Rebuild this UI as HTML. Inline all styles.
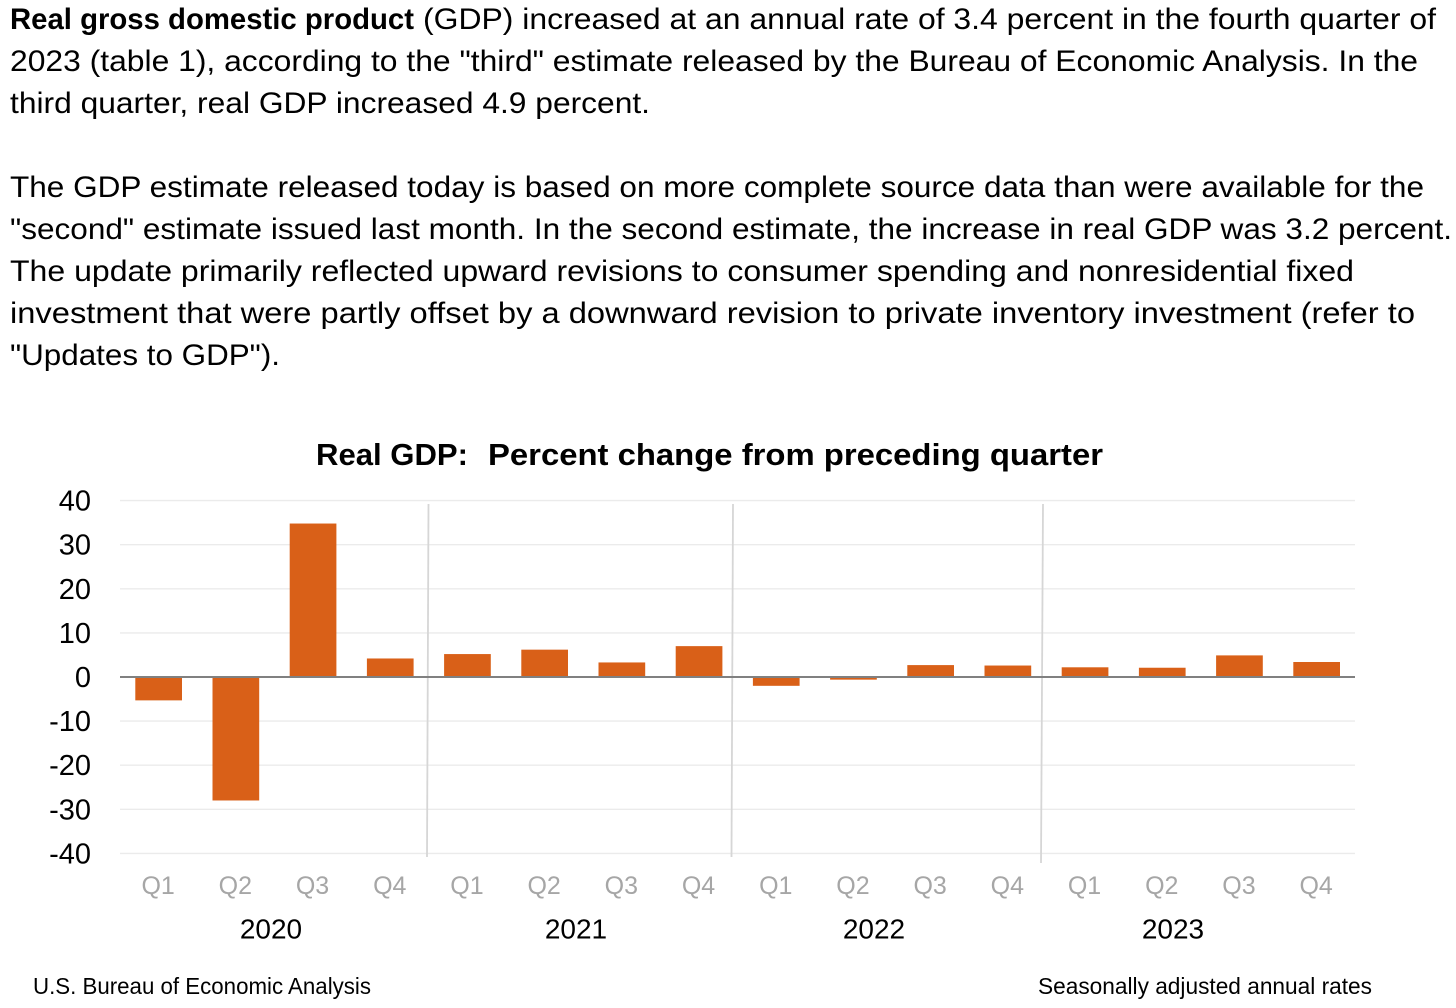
<!DOCTYPE html>
<html lang="en">
<head>
<meta charset="utf-8">
<title>Real GDP: Percent change from preceding quarter</title>
<style>
html,body{margin:0;padding:0;background:#fff;width:1456px;height:1008px;overflow:hidden}
svg{display:block;font-family:"Liberation Sans",sans-serif}
.body-text{font-size:30px;fill:#000}
</style>
</head>
<body>
<svg id="page" width="1456" height="1008" viewBox="0 0 1456 1008" xmlns="http://www.w3.org/2000/svg">
<g>
<text class="body-text" x="10" y="29" font-weight="700" textLength="404" lengthAdjust="spacingAndGlyphs">Real gross domestic product</text>
<text class="body-text" x="423" y="29" textLength="1013" lengthAdjust="spacingAndGlyphs">(GDP) increased at an annual rate of 3.4 percent in the fourth quarter of</text>
<text class="body-text" x="10" y="71" textLength="1408" lengthAdjust="spacingAndGlyphs">2023 (table 1), according to the "third" estimate released by the Bureau of Economic Analysis. In the</text>
<text class="body-text" x="10" y="113" textLength="640" lengthAdjust="spacingAndGlyphs">third quarter, real GDP increased 4.9 percent.</text>
<text class="body-text" x="10" y="197" textLength="1414" lengthAdjust="spacingAndGlyphs">The GDP estimate released today is based on more complete source data than were available for the</text>
<text class="body-text" x="10" y="239" textLength="1442" lengthAdjust="spacingAndGlyphs">"second" estimate issued last month. In the second estimate, the increase in real GDP was 3.2 percent.</text>
<text class="body-text" x="10" y="281" textLength="1344" lengthAdjust="spacingAndGlyphs">The update primarily reflected upward revisions to consumer spending and nonresidential fixed</text>
<text class="body-text" x="10" y="323" textLength="1405" lengthAdjust="spacingAndGlyphs">investment that were partly offset by a downward revision to private inventory investment (refer to</text>
<text class="body-text" x="10" y="365" textLength="270" lengthAdjust="spacingAndGlyphs">"Updates to GDP").</text>
</g>
<g font-size="31" font-weight="700" fill="#000">
<text x="316" y="465" textLength="152" lengthAdjust="spacingAndGlyphs">Real GDP:</text>
<text x="488" y="465" textLength="615" lengthAdjust="spacingAndGlyphs">Percent change from preceding quarter</text>
</g>
<g id="grid"></g>
<g id="separators">
<line x1="428.5" y1="504" x2="427" y2="857" stroke="#d6d6d6" stroke-width="1.8"/>
<line x1="733" y1="504" x2="731.5" y2="857" stroke="#d6d6d6" stroke-width="1.8"/>
<line x1="1043" y1="504" x2="1041" y2="863" stroke="#d6d6d6" stroke-width="1.8"/>
</g>
<g id="bars"></g>
<line id="zero-line" x1="120" x2="1355" stroke="#808080" stroke-width="2"/>
<g id="y-ticks"></g>
<g id="x-ticks"></g>
<g font-size="28" fill="#000" text-anchor="middle">
<text x="271" y="938.5">2020</text>
<text x="576" y="938.5">2021</text>
<text x="874" y="938.5">2022</text>
<text x="1173" y="938.5">2023</text>
</g>
<text x="33" y="994" font-size="23" fill="#000" textLength="338" lengthAdjust="spacingAndGlyphs">U.S. Bureau of Economic Analysis</text>
<text x="1038" y="994" font-size="23" fill="#000" textLength="334" lengthAdjust="spacingAndGlyphs">Seasonally adjusted annual rates</text>
</svg>
<script>
const quarters = ["Q1","Q2","Q3","Q4","Q1","Q2","Q3","Q4","Q1","Q2","Q3","Q4","Q1","Q2","Q3","Q4"];
const gdpChange = [-5.3,-28.0,34.8,4.2,5.2,6.2,3.3,7.0,-2.0,-0.6,2.7,2.6,2.2,2.1,4.9,3.4];
const yTicks = [40,30,20,10,0,-10,-20,-30,-40];

const NS = "http://www.w3.org/2000/svg";
function yScale(v){ return 677 - v * 4.41; }
function xBand(i){ return 135.3 + i * 77.2; }
const barWidth = 46.7;

const gridGroup = document.getElementById("grid");
const yGroup = document.getElementById("y-ticks");
yTicks.forEach(function(t){
  if (t !== 0) {
    const line = document.createElementNS(NS, "line");
    
    
    line.setAttribute("x1", 120);
    line.setAttribute("x2", 1355);
    line.setAttribute("y1", yScale(t));
    line.setAttribute("y2", yScale(t));
    line.setAttribute("stroke", "#ebebeb");
    line.setAttribute("stroke-width", 1.4);
    gridGroup.appendChild(line);
  }
  const label = document.createElementNS(NS, "text");
  
  
  label.setAttribute("x", 91);
  label.setAttribute("y", yScale(t) + 10);
  label.setAttribute("text-anchor", "end");
  label.setAttribute("font-size", 29);
  label.setAttribute("fill", "#000");
  label.textContent = t;
  yGroup.appendChild(label);
});

const zero = document.getElementById("zero-line");
zero.setAttribute("y1", yScale(0));
zero.setAttribute("y2", yScale(0));

const barGroup = document.getElementById("bars");
const xGroup = document.getElementById("x-ticks");
gdpChange.forEach(function(v, i){
  const bar = document.createElementNS(NS, "rect");
  
  
  bar.setAttribute("x", xBand(i));
  bar.setAttribute("y", Math.min(yScale(v), yScale(0)));
  bar.setAttribute("width", barWidth);
  bar.setAttribute("height", Math.abs(yScale(v) - yScale(0)));
  bar.setAttribute("fill", "#d96018");
  barGroup.appendChild(bar);

  const label = document.createElementNS(NS, "text");
  
  
  label.setAttribute("x", xBand(i) + barWidth / 2 - 0.5);
  label.setAttribute("y", 894);
  label.setAttribute("text-anchor", "middle");
  label.setAttribute("font-size", 25);
  label.setAttribute("fill", "#a6a6a6");
  label.textContent = quarters[i];
  xGroup.appendChild(label);
});
</script>
</body>
</html>
